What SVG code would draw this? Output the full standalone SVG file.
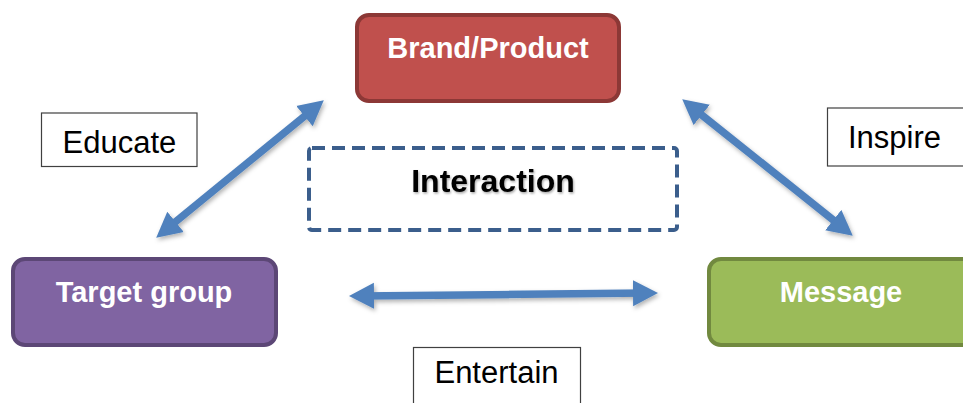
<svg xmlns="http://www.w3.org/2000/svg" width="963" height="403" viewBox="0 0 963 403">
<style>
.node-text{font-family:"Liberation Sans",Arial,sans-serif;font-weight:bold;font-size:29px;fill:#fff;text-anchor:middle}
.label-box{fill:#fff;stroke:#404040;stroke-width:1.2}
.label-text{font-family:"Liberation Sans",Arial,sans-serif;font-size:31px;fill:#000;text-anchor:middle}
.conn{stroke:#4F81BD;stroke-width:7.5;fill:none;marker-start:url(#head);marker-end:url(#head)}
</style>
<defs>
<marker id="head" markerUnits="userSpaceOnUse" markerWidth="26" markerHeight="28" viewBox="0 0 26 28" refX="14" refY="14" orient="auto-start-reverse">
<path d="M0,1 L25,14 L0,27 Z" fill="#4F81BD"/>
</marker>
<filter id="shadow" filterUnits="userSpaceOnUse" x="0" y="0" width="963" height="403">
<feDropShadow dx="1.5" dy="2.5" stdDeviation="2" flood-color="#000" flood-opacity="0.3"/>
</filter>
<filter id="tshadow" x="-10%" y="-30%" width="120%" height="160%">
<feDropShadow dx="1" dy="1.5" stdDeviation="1.2" flood-color="#000" flood-opacity="0.35"/>
</filter>
</defs>
<rect width="963" height="403" fill="#fff"/>
<g id="connectors" filter="url(#shadow)">
<line class="conn" x1="164.7" y1="230.7" x2="315.3" y2="107.3"/>
<line class="conn" x1="690.8" y1="106.2" x2="844.2" y2="228.8"/>
<line class="conn" x1="360" y1="295.9" x2="647" y2="293.1"/>
</g>
<g id="brand">
<rect x="357" y="15" width="262" height="86" rx="12" fill="#C0504D" stroke="#8C3836" stroke-width="4"/>
<text class="node-text" x="488" y="58">Brand/Product</text>
</g>
<g id="interaction">
<rect x="309" y="148" width="368" height="82" rx="3" fill="#fff" stroke="#3B5E8C" stroke-width="4" stroke-dasharray="13,7"/>
<text x="493" y="192" font-family="Liberation Sans, Arial, sans-serif" font-weight="bold" font-size="32" fill="#000" text-anchor="middle" filter="url(#tshadow)">Interaction</text>
</g>
<g id="target">
<rect x="13" y="259" width="263" height="86" rx="12" fill="#8064A2" stroke="#5C4776" stroke-width="4"/>
<text class="node-text" x="144" y="302">Target group</text>
</g>
<g id="message">
<rect x="709" y="259" width="266" height="86" rx="12" fill="#9BBB59" stroke="#71893F" stroke-width="4"/>
<text class="node-text" x="841" y="302">Message</text>
</g>
<g id="educate">
<rect class="label-box" x="41.5" y="113" width="155.5" height="53.5"/>
<text class="label-text" x="119.5" y="153">Educate</text>
</g>
<g id="inspire">
<rect class="label-box" x="827.5" y="108" width="140" height="58"/>
<text class="label-text" x="894.5" y="148">Inspire</text>
</g>
<g id="entertain">
<rect class="label-box" x="413.5" y="347.5" width="167" height="60"/>
<text class="label-text" x="496.5" y="383">Entertain</text>
</g>
</svg>
